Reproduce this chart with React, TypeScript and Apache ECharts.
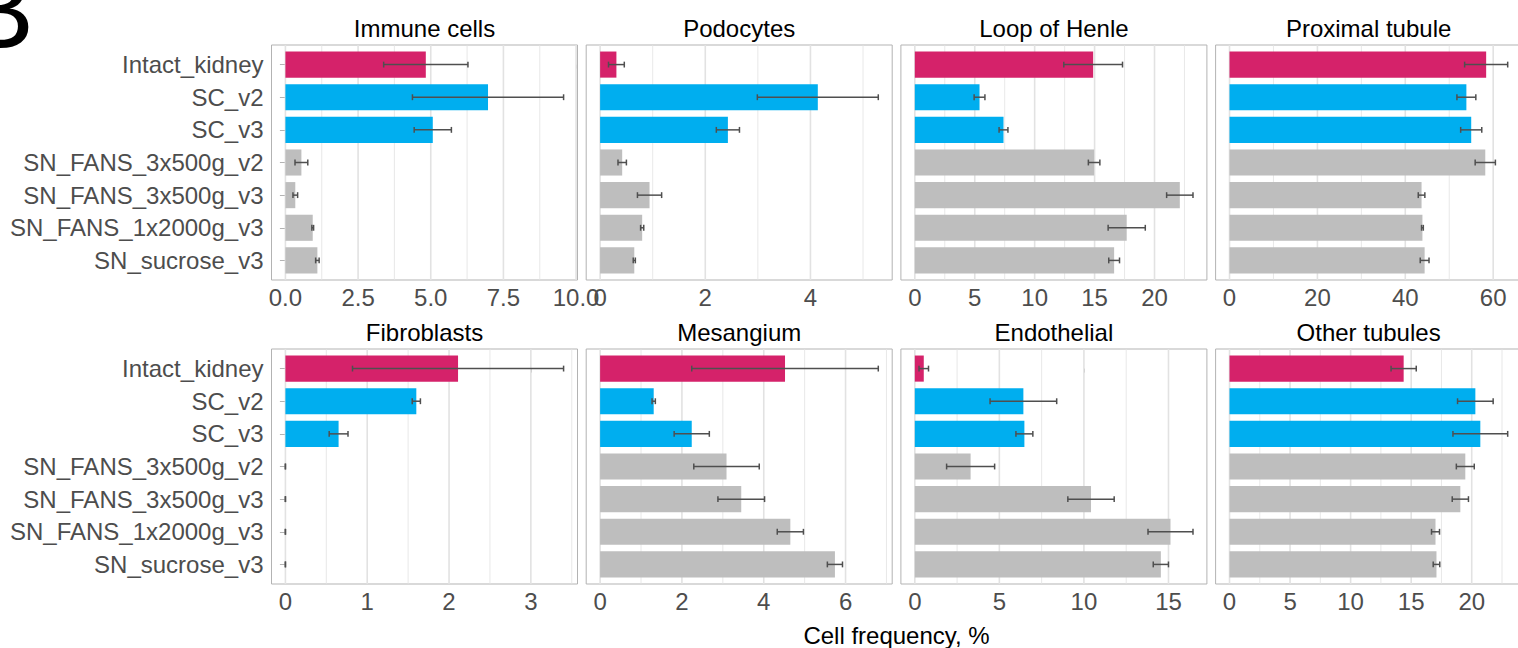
import React, { useEffect, useRef } from "react";
import * as echarts from "echarts";

// Conditions shown on the shared vertical axis, top to bottom
const conditions = [
  "Intact_kidney",
  "SC_v2",
  "SC_v3",
  "SN_FANS_3x500g_v2",
  "SN_FANS_3x500g_v3",
  "SN_FANS_1x2000g_v3",
  "SN_sucrose_v3",
];
// 0 = intact tissue, 1 = single cell, 2 = single nucleus
const conditionGroup = [0, 1, 1, 2, 2, 2, 2];
const groupColors = ["#D5226A", "#00AEEF", "#BEBEBE"];

const cellTypes = [
  "Immune cells",
  "Podocytes",
  "Loop of Henle",
  "Proximal tubule",
  "Fibroblasts",
  "Mesangium",
  "Endothelial",
  "Other tubules",
];

// Mean cell frequency (%) per condition, and its standard deviation
const immuneCells = [4.83, 6.97, 5.07, 0.55, 0.34, 0.94, 1.1];
const immuneCellsSd = [1.45, 2.6, 0.64, 0.22, 0.08, 0.03, 0.06];
const podocytes = [0.31, 4.14, 2.43, 0.42, 0.94, 0.8, 0.65];
const podocytesSd = [0.15, 1.15, 0.22, 0.08, 0.23, 0.03, 0.02];
const loopOfHenle = [14.88, 5.4, 7.4, 14.96, 22.11, 17.68, 16.63];
const loopOfHenleSd = [2.45, 0.45, 0.37, 0.48, 1.1, 1.55, 0.45];
const proximalTubule = [58.4, 53.9, 55.0, 58.2, 43.7, 43.9, 44.4];
const proximalTubuleSd = [4.9, 2.15, 2.4, 2.3, 0.75, 0.2, 1.0];
const fibroblasts = [2.11, 1.6, 0.65, 0, 0, 0, 0];
const fibroblastsSd = [1.29, 0.05, 0.115, 0, 0, 0, 0];
const mesangium = [4.52, 1.31, 2.24, 3.09, 3.45, 4.65, 5.74];
const mesangiumSd = [2.28, 0.04, 0.43, 0.8, 0.57, 0.32, 0.185];
const endothelial = [0.53, 6.42, 6.48, 3.3, 10.42, 15.12, 14.55];
const endothelialSd = [0.28, 1.97, 0.5, 1.42, 1.37, 1.33, 0.45];
const otherTubules = [14.38, 20.3, 20.71, 19.47, 19.06, 17.01, 17.09];
const otherTubulesSd = [1.04, 1.47, 2.26, 0.74, 0.67, 0.33, 0.27];

// Axis breaks per panel
const immuneTicks = [0, 2.5, 5, 7.5, 10];
const immuneTickLabels = ["0.0", "2.5", "5.0", "7.5", "10.0"];
const podocyteTicks = [0, 2, 4];
const loopTicks = [0, 5, 10, 15, 20];
const proximalTicks = [0, 20, 40, 60];
const fibroblastTicks = [0, 1, 2, 3];
const mesangiumTicks = [0, 2, 4, 6];
const endothelialTicks = [0, 5, 10, 15];
const otherTubuleTicks = [0, 5, 10, 15, 20];

const panelMeans = [
  immuneCells, podocytes, loopOfHenle, proximalTubule,
  fibroblasts, mesangium, endothelial, otherTubules,
];
const panelSds = [
  immuneCellsSd, podocytesSd, loopOfHenleSd, proximalTubuleSd,
  fibroblastsSd, mesangiumSd, endothelialSd, otherTubulesSd,
];
const panelTicks = [
  immuneTicks, podocyteTicks, loopTicks, proximalTicks,
  fibroblastTicks, mesangiumTicks, endothelialTicks, otherTubuleTicks,
];
const panelTickLabels = [
  immuneTickLabels,
  podocyteTicks.map(String),
  loopTicks.map(String),
  proximalTicks.map(String),
  fibroblastTicks.map(String),
  mesangiumTicks.map(String),
  endothelialTicks.map(String),
  otherTubuleTicks.map(String),
];

const xAxisTitle = "Cell frequency, %";
const figureTag = "B";

// Layout
const FONT = '"Liberation Sans", Arial, Helvetica, sans-serif';
const PANEL_W = 306;
const PANEL_H = 235;
const COL_X = [271.5, 586.2, 900.9, 1215.6];
const ROW_Y = [45, 349];
const BORDER = "#b3b3b3";
const GRID_LINE = "#e2e2e2";
const TEXT_GRAY = "#4d4d4d";
const ERR_COLOR = "#4f4f4f";

function buildOption(): echarts.EChartsOption {
  const grids: any[] = [];
  const xAxes: any[] = [];
  const yAxes: any[] = [];
  const series: any[] = [];
  const catIdx = conditions.map((_, k) => k);

  cellTypes.forEach((_, i) => {
    const col = i % 4;
    const row = Math.floor(i / 4);
    const means = panelMeans[i];
    const sds = panelSds[i];
    const ticks = panelTicks[i];
    const labels = panelTickLabels[i];
    const top = Math.max(...means.map((m, k) => m + sds[k]));
    const lo = -0.05 * top;
    const hi = 1.05 * top;

    grids.push({
      left: COL_X[col],
      top: ROW_Y[row],
      width: PANEL_W,
      height: PANEL_H,
      show: true,
      backgroundColor: "#fff",
      borderColor: BORDER,
      borderWidth: 1,
      containLabel: false,
      outerBoundsMode: "none",
    });

    xAxes.push({
      type: "value",
      gridIndex: i,
      min: lo,
      max: hi,
      axisLine: { show: false },
      splitLine: { show: false },
      axisTick: {
        show: true,
        length: 4,
        customValues: ticks,
        lineStyle: { color: BORDER, width: 1 },
      },
      axisLabel: {
        show: true,
        customValues: ticks,
        margin: 5,
        fontSize: 24,
        fontFamily: FONT,
        color: TEXT_GRAY,
        formatter: (v: number) => {
          const j = ticks.findIndex((t) => Math.abs(t - v) < 1e-9);
          return j >= 0 ? labels[j] : "";
        },
      },
    });

    const isLeft = col === 0;
    yAxes.push({
      type: "value",
      gridIndex: i,
      inverse: true,
      min: -0.6,
      max: conditions.length - 1 + 0.6,
      axisLine: { show: false },
      splitLine: { show: false },
      axisTick: {
        show: isLeft,
        length: 5.5,
        customValues: catIdx,
        lineStyle: { color: BORDER, width: 1 },
      },
      axisLabel: {
        show: isLeft,
        customValues: catIdx,
        margin: 8,
        fontSize: 24,
        fontFamily: FONT,
        color: TEXT_GRAY,
        formatter: (v: number) => conditions[Math.round(v)] ?? "",
      },
    });

    // Major and minor vertical grid lines
    const step = ticks[1] - ticks[0];
    const gridData: number[][] = [];
    ticks.forEach((t) => gridData.push([t, 0, 1]));
    for (let m = ticks[0] - step / 2; m <= hi; m += step) {
      if (m >= lo) gridData.push([m, 0, 0]);
    }
    series.push({
      type: "custom",
      xAxisIndex: i,
      yAxisIndex: i,
      silent: true,
      z: 1,
      encode: { x: 0, y: 1 },
      data: gridData,
      renderItem: (params: any, api: any) => {
        const cs = params.coordSys;
        const x = api.coord([api.value(0), 0])[0];
        const major = api.value(2) === 1;
        return {
          type: "line",
          shape: { x1: x, y1: cs.y, x2: x, y2: cs.y + cs.height },
          style: { stroke: GRID_LINE, lineWidth: major ? 1.6 : 0.8 },
        };
      },
    });

    // Bars with error bars (mean ± sd)
    series.push({
      type: "custom",
      xAxisIndex: i,
      yAxisIndex: i,
      silent: true,
      z: 2,
      encode: { x: 0, y: 1 },
      data: conditions.map((_, k) => [means[k], k, sds[k], conditionGroup[k]]),
      renderItem: (_params: any, api: any) => {
        const mean = api.value(0);
        const k = api.value(1);
        const sd = api.value(2);
        const color = groupColors[api.value(3)];
        const p0 = api.coord([0, k]);
        const p1 = api.coord([mean, k]);
        const bh = api.size([0, 0.8])[1];
        const cap = api.size([0, 0.18])[1];
        const xl = api.coord([mean - sd, k])[0];
        const xr = api.coord([mean + sd, k])[0];
        const cy = p0[1];
        const es = { stroke: ERR_COLOR, lineWidth: 1.5 };
        return {
          type: "group",
          children: [
            {
              type: "rect",
              shape: { x: p0[0], y: cy - bh / 2, width: p1[0] - p0[0], height: bh },
              style: { fill: color },
            },
            { type: "line", shape: { x1: xl, y1: cy, x2: xr, y2: cy }, style: es },
            { type: "line", shape: { x1: xl, y1: cy - cap / 2, x2: xl, y2: cy + cap / 2 }, style: es },
            { type: "line", shape: { x1: xr, y1: cy - cap / 2, x2: xr, y2: cy + cap / 2 }, style: es },
          ],
        };
      },
    });
  });

  const graphic: any[] = cellTypes.map((t, i) => ({
    type: "text",
    x: COL_X[i % 4] + PANEL_W / 2,
    y: ROW_Y[Math.floor(i / 4)] - 16.3,
    silent: true,
    style: {
      text: t,
      font: `24px ${FONT}`,
      fill: "#000",
      align: "center",
      verticalAlign: "middle",
      textAlign: "center",
      textVerticalAlign: "middle",
    },
  }));
  graphic.push({
    type: "text",
    x: COL_X[0] + (COL_X[3] + PANEL_W - COL_X[0]) / 2,
    y: 635,
    silent: true,
    style: {
      text: xAxisTitle,
      font: `24px ${FONT}`,
      fill: "#000",
      align: "center",
      verticalAlign: "middle",
      textAlign: "center",
      textVerticalAlign: "middle",
    },
  });
  graphic.push({
    type: "text",
    x: 34,
    y: 48 - 0.3465 * 110,
    silent: true,
    style: {
      text: figureTag,
      font: `110px ${FONT}`,
      fill: "#000",
      align: "right",
      verticalAlign: "middle",
      textAlign: "right",
      textVerticalAlign: "middle",
    },
  });

  return {
    animation: false,
    backgroundColor: "#fff",
    grid: grids,
    xAxis: xAxes,
    yAxis: yAxes,
    series,
    graphic,
  };
}

export default function App() {
  const ref = useRef<HTMLDivElement>(null);
  useEffect(() => {
    if (!ref.current) return;
    const chart = echarts.init(ref.current, undefined, { renderer: "svg" });
    chart.setOption(buildOption());
    return () => chart.dispose();
  }, []);
  return (
    <div
      ref={ref}
      style={{ position: "absolute", left: 0, top: 0, width: 1518, height: 648 }}
    />
  );
}
